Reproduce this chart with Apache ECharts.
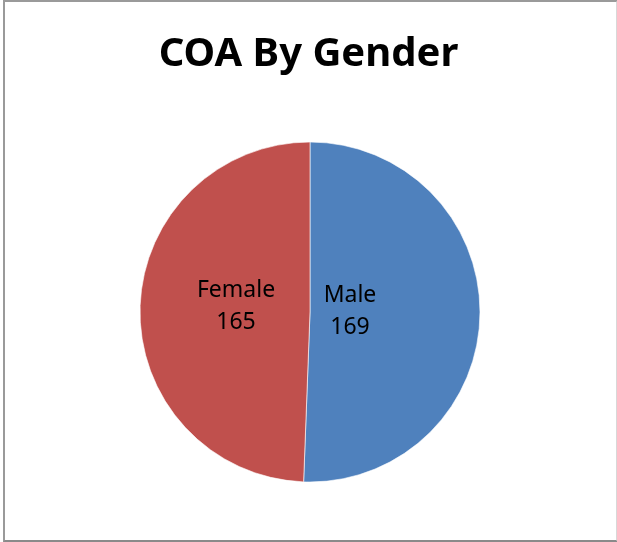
<!DOCTYPE html>
<html>
<head>
<meta charset="utf-8">
<script src="https://cdn.jsdelivr.net/npm/echarts@6/dist/echarts.min.js"></script>
<style>
  html, body { margin: 0; padding: 0; background: #fff; }
  #frame {
    position: absolute; left: 3px; top: 0px;
    width: 611px; height: 538px;
    border-top: 2px solid #9a9a9a;
    border-left: 2px solid #9a9a9a;
    border-bottom: 2px solid #8a8a8a;
    border-right: 2px solid #d8d8d8;
  }
  #chart { position: absolute; left: 0; top: 0; width: 617px; height: 542px; }
</style>
</head>
<body>
<div id="frame"></div>
<div id="chart"></div>
<script>
// chart data
const titleText = 'COA By Gender';
const categories = ['Male', 'Female'];
const counts = [169, 165];
const colors = ['#4F81BD', '#C0504D'];

let myChart = echarts.init(document.getElementById('chart'));

// Excel puts the labels nearer the centre than echarts 'inside' does
const labelOffsets = [[-48, -2], [14, -4]];

myChart.setOption({
    animation: false,
    title: {
        text: titleText,
        left: 'center',
        top: 30,
        textStyle: {
            fontFamily: 'Noto Sans',
            fontWeight: 'bold',
            fontSize: 40,
            color: '#000'
        }
    },
    series: [
        {
            type: 'pie',
            center: [310, 312],
            radius: 170,
            startAngle: 90,
            clockwise: true,
            silent: true,
            itemStyle: {
                borderColor: '#fff',
                borderWidth: 0.6
            },
            label: {
                show: true,
                position: 'inside',
                formatter: '{b}\n{c}',
                fontFamily: 'Noto Sans',
                fontSize: 23,
                lineHeight: 32,
                color: '#000',
                align: 'center'
            },
            labelLine: { show: false },
            data: categories.map((name, i) => ({
                name: name,
                value: counts[i],
                itemStyle: { color: colors[i] },
                label: { offset: labelOffsets[i] }
            }))
        }
    ]
});
</script>
</body>
</html>
